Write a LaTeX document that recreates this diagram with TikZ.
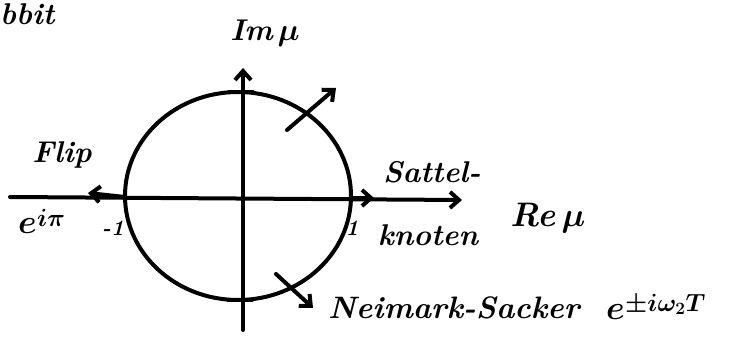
\documentclass[tikz,border=0pt]{standalone}
\usepackage{graphicx}
\usepackage{amsmath,amssymb,bm}
\usetikzlibrary{arrows.meta,shapes.geometric}
\begin{document}
\begin{tikzpicture}[x=1pt,y=-1pt,
  stroke/.style={line width=4pt,line cap=round,line join=round},
  arr/.style={stroke,-{Straight Barb[length=9pt,width=16pt,line width=4pt]}},
  big/.style={font=\fontsize{34}{40}\selectfont\bfseries\itshape,inner sep=0pt},
  mid/.style={font=\fontsize{31}{36}\selectfont\bfseries\itshape,inner sep=0pt},
  lab/.style={font=\fontsize{30}{36}\selectfont\bfseries\itshape,inner sep=0pt},
  supr/.style={font=\fontsize{24}{28}\selectfont\bfseries\itshape,inner sep=0pt},
  small/.style={font=\fontsize{22}{26}\selectfont\bfseries\itshape,inner sep=0pt}]
\useasboundingbox (0,0) rectangle (733,339);
% circle
\node[draw,stroke,ellipse,minimum width=226pt,minimum height=208pt,inner sep=0pt] (uc) at (238,196) {};
% axes
\coordinate (xl) at (10,197);
\coordinate (xr) at (462,200);
\coordinate (yb) at (243,330);
\coordinate (yt) at (243,68);
\draw[arr] (xl) -- (xr);
\draw[arr] (yb) -- (yt);
% ticks
\coordinate (m1) at (125,197);
\coordinate (p1) at (351,198);
\coordinate (ti) at (241,92);
\coordinate (bi) at (240,300);
\draw[stroke] (ti) ++(-12,0) -- ++(24,0);
\draw[stroke] (bi) ++(-12,0) -- ++(24,0);
% arrows
\coordinate (fe) at (88,193);
\draw[arr] (m1) -- (fe);
\coordinate (se) at (374,198);
\draw[arr] (p1) -- (se);
\coordinate (ds) at (287,130);
\coordinate (de) at (336,88);
\draw[arr] (ds) -- (de);
\coordinate (ns) at (276,274);
\coordinate (ne) at (313,308);
\draw[arr] (ns) -- (ne);
% labels
\node[lab,anchor=west] (orb) at (0,14) {bbit};
\node[lab] (im) at (265,33) {Im\,\scalebox{1.25}{$\bm{\mu}$}};
\node[lab] (flip) at (62,155) {Flip};
\node[big,anchor=west] (efl) at (18,226) {\scalebox{1.35}{$\bm{e}$}};
\node[supr,anchor=west] (eflsup) at (efl.north east) {$\bm{i\pi}$};
\node[small] (mone) at (113,228) {-1};
\node[small] (one) at (352,228) {1};
\node[big] (re) at (548,218) {Re\,\scalebox{1.35}{$\bm{\mu}$}};
\node[lab] (sat) at (432,172) {Sattel-};
\node[lab] (kno) at (428,235) {knoten};
\node[mid,anchor=west] (ns1) at (328,308) {Neimark-Sacker};
\node[big,anchor=west] (ens) at (606,312) {\scalebox{1.35}{$\bm{e}$}};
\node[supr,anchor=west] (ensup) at (ens.north east) {$\bm{\pm i\omega_2 T}$};
\end{tikzpicture}
\end{document}
